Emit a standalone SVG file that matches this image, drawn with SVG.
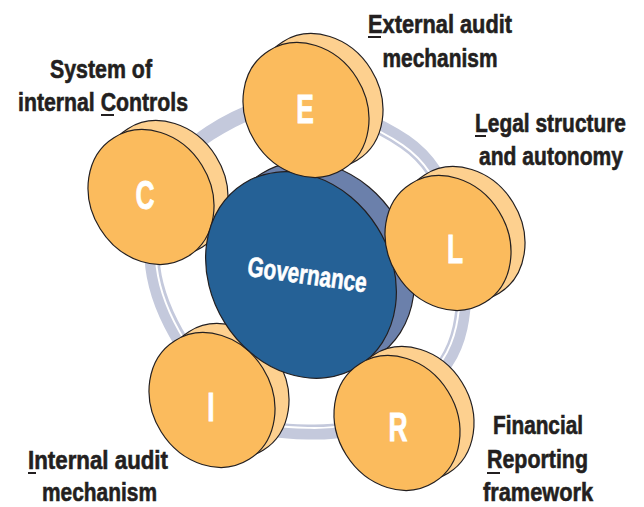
<svg xmlns="http://www.w3.org/2000/svg" xmlns:xlink="http://www.w3.org/1999/xlink" width="644" height="507" viewBox="0 0 644 507">
<style>
.lbl{font-family:"Liberation Sans Narrow","Liberation Sans",Arial,sans-serif;font-weight:bold;font-size:26px;fill:#231f20;stroke:#231f20;stroke-width:0.6;text-anchor:middle}
.end{text-anchor:end}
.ul{stroke:#231f20;stroke-width:2}
.let{font-family:"Liberation Sans Narrow","Liberation Sans",Arial,sans-serif;font-weight:bold;font-size:40px;fill:#ffffff;stroke:#ffffff;stroke-width:0.8;text-anchor:middle}
.back{fill:#fdd08f;stroke:#231f20;stroke-width:1.2}
.front{fill:#fbbb5d;stroke:#231f20;stroke-width:1.2}
</style>
<defs>
<g id="coin">
<ellipse class="back" cx="14" cy="-9" rx="60" ry="70" transform="rotate(-32 14 -9)"/>
<ellipse class="front" cx="0" cy="0" rx="60" ry="70" transform="rotate(-32)"/>
</g>
<path id="ringpath" d="M300,102 C332.5,103.5 380,124.8 405,142 C430,159.2 440.2,180.3 450,205 C459.8,229.7 464.7,263.8 464,290 C463.3,316.2 460,340.7 446,362 C432,383.3 402.7,406.3 380,418 C357.3,429.7 333.3,432.5 310,432 C286.7,431.5 262.3,431.5 240,415 C217.7,398.5 190.7,359.2 176,333 C161.3,306.8 153.3,282.7 152,258 C150.7,233.3 158.3,205.8 168,185 C177.7,164.2 188,146.8 210,133 C232,119.2 267.5,100.5 300,102 Z"/>
</defs>
<g id="connectors">
<use xlink:href="#ringpath" fill="none" stroke="#c4c9dc" stroke-width="15"/>
<path d="M300,102 C332.5,103.5 380,124.8 405,142 C430,159.2 440.2,180.3 450,205 C459.8,229.7 464.7,263.8 464,290 C463.3,316.2 460,340.7 446,362 C432,383.3 402.7,406.3 380,418 C357.3,429.7 333.3,432.5 310,432 C286.7,431.5 262.3,431.5 240,415 C217.7,398.5 190.7,359.2 176,333 C161.3,306.8 153.3,282.7 152,258 C150.7,233.3 158.3,205.8 168,185" fill="none" stroke="#ffffff" stroke-width="2" transform="translate(308 268) scale(0.975) translate(-308 -268)"/>
</g>
<g id="node-C">
<use xlink:href="#coin" transform="translate(151 197)"/>
<text class="let" transform="translate(145 209) scale(0.66 1)">C</text>
</g>
<g id="node-I">
<use xlink:href="#coin" transform="translate(212 400)"/>
<text class="let" transform="translate(211 421) scale(0.66 1)">I</text>
</g>
<g id="node-governance">
<ellipse cx="319" cy="265" rx="90" ry="108" transform="rotate(-32 319 265)" fill="#6b80ab" stroke="#231f20" stroke-width="1.2"/>
<ellipse cx="301" cy="275" rx="90" ry="108" transform="rotate(-32 301 275)" fill="#256196" stroke="#231f20" stroke-width="1.2"/>
<text transform="translate(306 284) rotate(8)" x="0" y="0" text-anchor="middle" textLength="120" lengthAdjust="spacingAndGlyphs" style="font-family:'Liberation Sans Narrow','Liberation Sans',Arial,sans-serif;font-weight:bold;font-size:28px;fill:#ffffff;stroke:#ffffff;stroke-width:0.6">Governance</text>
</g>
<g id="node-E">
<use xlink:href="#coin" transform="translate(306 110)"/>
<text class="let" transform="translate(305 123) scale(0.66 1)">E</text>
</g>
<g id="node-L">
<use xlink:href="#coin" transform="translate(448 243)"/>
<text class="let" transform="translate(455 263) scale(0.66 1)">L</text>
</g>
<g id="node-R">
<use xlink:href="#coin" transform="translate(397 423)"/>
<text class="let" transform="translate(398 441) scale(0.66 1)">R</text>
</g>
<g id="labels">
<text class="lbl" x="101" y="78" textLength="102" lengthAdjust="spacingAndGlyphs">System of</text>
<text class="lbl" x="103" y="111" textLength="170" lengthAdjust="spacingAndGlyphs">internal Controls</text>
<line class="ul" x1="101" y1="115" x2="114" y2="115"/>
<text class="lbl" x="440" y="33" textLength="144" lengthAdjust="spacingAndGlyphs">External audit</text>
<line class="ul" x1="368" y1="37" x2="381" y2="37"/>
<text class="lbl" x="440" y="67" textLength="115" lengthAdjust="spacingAndGlyphs">mechanism</text>
<text class="lbl end" x="626" y="132" textLength="151" lengthAdjust="spacingAndGlyphs">Legal structure</text>
<line class="ul" x1="475" y1="136" x2="486" y2="136"/>
<text class="lbl end" x="623" y="165" textLength="144" lengthAdjust="spacingAndGlyphs">and autonomy</text>
<text class="lbl" x="538" y="434" textLength="90" lengthAdjust="spacingAndGlyphs">Financial</text>
<text class="lbl" x="537.5" y="468" textLength="101" lengthAdjust="spacingAndGlyphs">Reporting</text>
<line class="ul" x1="487" y1="473" x2="500" y2="473"/>
<text class="lbl" x="538" y="501" textLength="110" lengthAdjust="spacingAndGlyphs">framework</text>
<text class="lbl" x="98" y="469" textLength="140" lengthAdjust="spacingAndGlyphs">Internal audit</text>
<line class="ul" x1="28" y1="473" x2="36" y2="473"/>
<text class="lbl" x="99.5" y="501" textLength="115" lengthAdjust="spacingAndGlyphs">mechanism</text>
</g>
</svg>
